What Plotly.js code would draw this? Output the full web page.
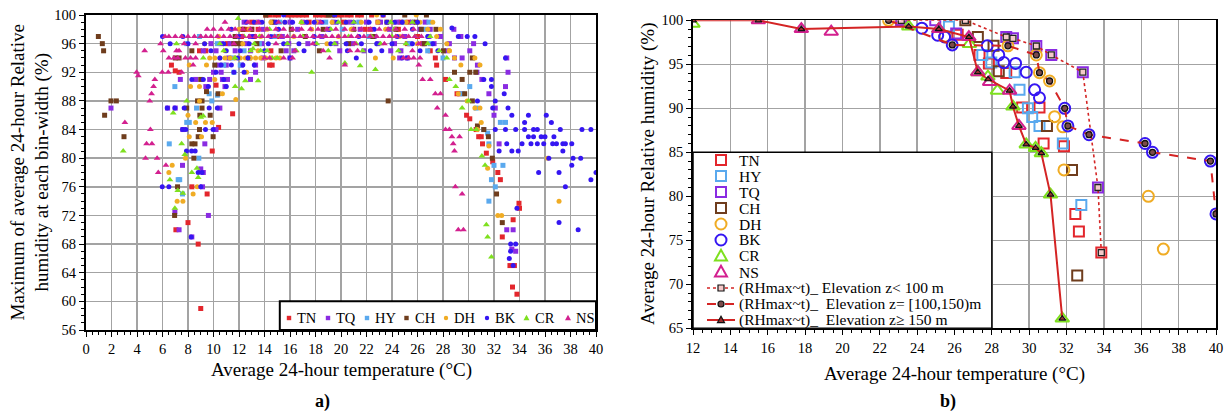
<!DOCTYPE html>
<html><head><meta charset="utf-8">
<script src="https://cdn.plot.ly/plotly-3.0.1.min.js"></script>
<style>html,body{margin:0;padding:0;background:#fff}#chart{width:1226px;height:412px}</style>
</head><body><div id="chart"></div>
<script>
// ================= Panel a) : rows [RH, [temperatures]] and loose points [t, RH] =================
const TN_rows = [[100,[14.1,14.4,14.8,15.1,15.8,16.1,16.4,16.7,17.0,17.3,18.0,18.3,18.6,18.9,19.5,19.8,20.1,20.5,20.8,21.3,21.6,22.4,23.3]],
  [99,[13.0,17.5,20.2,22.9,24.7,25.3]],[98,[12.3,12.6,13.0,13.5,21.9,22.3,24.5]],[97,[12.2,13.2,15.0,26.0]],
  [96,[11.1,25.2,26.4]],[95,[8.9,9.4,14.5,27.0]],[94,[27.4]],[93,[6.7,14.4,14.6,27.5]]];
const TN_pts = [[7.0,92.2],[7.3,92],[10.2,90.2],[11.5,86.2],[10.4,84.3],[9.9,81],[9.5,75],[8.3,76],[8.0,71],[7.05,70],[8.8,68],[9.0,59],
  [28.2,91],[29.1,89],[29.3,89],[29.85,86],[30.1,85.5],[30.6,84],[30.8,83],[31.0,83],[31.1,82],[31.4,80.7],[31.9,79.5],[32.3,78],[32.5,77],
  [33.96,73.7],[34.0,73],[33.5,71.4],[32.65,69],[33.25,65],[33.6,65],[33.45,62],[33.8,61]];

const TQ_rows = [[99,[12.4,13.5,14.8,16.0,17.0,18.2,19.4,20.7,22.0,23.1,24.4,25.6,26.6]],[98,[13.9,16.6,19.0,21.5,23.8,26.2,27.0]],
  [97,[12.9,15.4,18.5,22.6,25.0,26.9]],[96,[9.8,10.6,11.3,12.6,13.8,15.9,17.4,19.6,20.9,22.9,24.2,25.4,26.5,27.3]],
  [95,[9.2,10.2,11.7,12.9,15.7,16.3,19.9,21.8,23.9,24.7,28.3]],[94,[11.2,13.9,16.0,24.6,25.2,28.9]],[93,[10.4,11.0,12.2,13.3]],
  [92,[10.0,10.6,13.3]],[91,[7.4,8.6,9.7,10.7,11.1,12.9]],[90,[9.4,10.9]]];
const TQ_pts = [[1.96,87],[6.4,87],[7.0,87],[7.6,84],[7.57,79],[6.97,72.5],[7.3,70],[8.3,69],[9.32,82],[9.2,78],[9.14,76],[9.6,72],[10.2,84],[10.5,87],[9.0,78.5],
  [27.8,97],[28.5,96],[28.85,98],[29.4,97],[30.4,96],[30.1,95],[29.5,94],[30.66,92],[31.05,91],[30.7,93],[32.1,87],[32.4,82],[33.0,70],[33.5,70],
  [33.0,94],[33.1,92],[32.9,90],[32.0,86],[31.6,89],[33.7,67],[33.4,67.3]];

const HY_rows = [[99,[15.2,18.8,21.4,24.9,26.9]],[98,[20.1,26.6]],[97,[8.9,14.8,22.2]],[96,[7.9,10.3,13.6,25.4,27.0]],[95,[12.4,26.8]],
  [94,[11.5,28.0]],[93,[10.8,12.1]],[92,[11.6]]];
const HY_pts = [[6.97,90],[6.53,82],[7.23,77],[7.57,75],[7.35,77],[8.1,85],[7.9,85],[8.67,87],[8.85,80],[9.66,89],[9.87,88],[10.3,88.8],
  [29.5,89],[30.1,90],[30.6,87],[31.2,84],[31.5,83.5],[31.6,82],[32.0,79],[32.7,79],[31.8,77],[32.1,76],[31.6,74],[32.5,85],[32.9,85]];

const CH_rows = [[100,[14.1,19.0,19.3,25.0,26.7]],[99,[14.6,23.6,25.9]],[98,[12.3,13.0,16.1,18.6,21.0,24.3,26.3,27.45]],[97,[11.7,17.2,22.5]],
  [96,[11.6,11.9,12.1,13.4,20.6,26.54]],[95,[8.3,15.3,18.3,28.03]],[94,[7.0,7.3,12.8,30.3]],[93,[10.1]],[92,[30.1,30.57]]];
const CH_pts = [[0.97,97],[1.28,96],[1.38,95],[1.96,88],[2.38,88],[1.46,86],[2.98,83],[6.95,72],[7.18,76],[7.9,87],[8.46,80],[8.3,82],[8.55,82],
  [8.8,83],[8.9,84],[8.93,86],[9.1,87],[8.75,88],[9.1,88],[9.45,89.3],[9.74,86],[9.97,83],[10.36,89],[9.0,91],[23.7,88],
  [31.56,83],[31.87,80],[32.2,75],[32.65,71],[29.7,89],[30.3,88],[28.9,92],[29.5,91],[31.2,84],[30.7,84.5]];

const DH_rows = [[100,[22.8,25.9]],[99,[13.3,14.5,15.6,16.9,18.1,19.3,20.4,21.6,22.9,24.0,25.1,26.2,27.2]],[98,[12.0,12.8,14.2,17.7,20.8,23.5,26.8,27.8]],
  [97,[10.4,13.7,16.3,19.8,24.6,27.5]],[96,[9.3,12.3,18.9,26.0,28.3]],[95,[10.9,13.5,28.5]],
  [94,[9.7,10.1,10.5,10.9,11.3,11.7,12.1,12.5,12.9,13.3,13.7,14.1,14.5,14.9,15.2,22.7,24.1,28.9]],[93,[8.1,9.45,29.4]],[92,[12.6]],[91,[10.1]],[90,[8.2,8.9]]];
const DH_pts = [[6.76,79],[6.5,78],[7.15,74],[7.6,74],[7.8,80],[8.0,86],[8.1,83],[8.4,75],[8.6,85],[8.72,76],[9.06,83],[9.37,85],[9.9,85],[10.7,89],[11.75,88.2],[8.9,88],
  [28.5,95],[30.5,94],[30.9,93],[29.2,89],[29.9,88],[30.5,87],[30.9,87],[31.0,85],[30.7,84],[31.6,81.7],[31.5,78.6],[32.3,72],[32.6,72],[36.2,80],[37.1,74]];

const BK_rows = [[100,[15.5,19.5,23.3]],[99,[12.6,13.2,13.8,14.9,15.6,16.2,17.3,17.9,18.5,19.7,20.4,21.0,22.2,23.6,24.2,24.8,26.0]],[98,[11.4,15.1,19.1,22.6,25.6]],
  [97,[6.0,7.6,12.0,13.1,14.5,17.9,21.4,24.4,26.8]],[96,[6.6,8.0,9.3,10.8,12.8,14.3,15.5,16.7,18.0,19.2,20.4,21.6,22.8,24.0,25.6,27.2]],
  [95,[9.8,11.0,12.1,14.0,17.1,20.5,22.3,23.2,26.2,27.6]],[94,[10.5,11.9,12.7,16.0,21.2,24.8,25.2]],[93,[10.6,11.4,12.3,13.2]],
  [92,[10.2,11.6,12.4]],[91,[8.3,9.2,10.8]],[90,[9.6,11.0]]];
const BK_pts = [[5.98,76],[6.5,76],[6.37,87],[6.97,87],[7.7,87],[7.57,84],[7.83,84],[7.88,81],[8.28,81],[8.56,81],[8.25,69],[9.0,76],[9.37,84],[9.97,84],
  [9.66,87],[10.3,87],[8.8,78],[9.1,78],
  [28.7,98.2],[29.2,97],[29.9,97],[30.5,97],[31.3,96],[32.9,94],[31.2,91],[31.8,91],[31.8,90],[32.8,89],[30.7,88],[32.1,88],[31.9,87],[33.1,87],
  [33.4,86],[34.7,86],[36.1,86],[34.4,85],[36.5,85],[32.1,84],[32.9,84],[33.7,84],[34.4,84],[35.1,84],[35.4,84],[37.2,84],[38.9,84],[39.6,84],
  [34.7,83],[35.1,83],[35.7,83],[36.0,83],[36.7,83],[33.0,82],[34.2,82],[34.9,82],[35.4,82],[35.9,82],[36.6,82],[36.9,82],[37.4,82],[37.6,82],[38.1,82],
  [32.4,81],[33.4,81],[33.9,81],[37.4,81],[36.3,80],[38.2,80],[38.8,80],[38.1,79],[35.5,78],[37.1,78],[40.0,78],[39.6,77],[37.6,76],[33.8,73],
  [37.1,71],[38.6,70],[33.3,68],[33.7,68],[33.3,67],[33.2,66],[33.5,65]];

const CR_rows = [[99,[16.9,19.8,21.0,23.9,25.6]],[98,[14.4,19.2,24.2]],[97,[12.4,13.6,15.2,17.0,18.8,20.6,22.4,24.0,25.8,27.0]],
  [96,[7.1,10.5,13.2,15.8,18.1,19.5,21.2,23.1,25.1,26.8]],[95,[10.8,12.9,13.7,14.2,16.5,19.0,21.7,24.5,27.7]],[94,[9.2,11.7,14.6,15.0,28.3]]];
const CR_pts = [[11.93,99.5],[20.3,93.3],[21.5,92.9],[22.7,92.4],[17.7,92],[2.92,81],[6.84,86.3],[6.58,77],[6.97,73],[7.5,82],[7.6,75.1],[7.2,75.5],
  [7.75,80.5],[8.3,78],[8.7,78.6],[8.8,77.3],[9.2,85.9],[9.0,85.7],[7.9,88],[11.7,90],[12.2,89.7],[12.5,90.8],[13.5,90.8],[13.1,95.3],
  [28.5,91],[29.0,90],[30.0,88],[29.5,87],[30.2,84],[30.6,84],[31.05,80.3],[31.3,79],[31.4,70.7],[31.5,69],[31.8,66.2]];

const NS_rows = [[99,[10.9,12.7,13.5,15.1,18.4]],
  [98,[9.5,10.0,10.6,11.2,11.7,12.3,12.9,13.6,14.2,14.9,15.5,16.2,16.9,17.6,18.2,18.9,19.6,20.3,21.0,21.6,22.3,23.0,23.7,24.3,25.0,25.7]],
  [97,[6.2,6.5,7.0,7.5,8.0,8.5,9.0,9.4,9.8,10.3,10.8,11.3,11.8,12.3,12.8,13.3,13.8,14.3,14.8,15.3,15.8,16.3,16.8,17.3,17.8,18.3,18.8,19.3,19.8,20.3,20.8,21.3,21.8,22.3,22.8,23.3,23.8,24.3,24.8,25.3,25.8,26.3]],
  [96,[5.85,7.7,8.6,11.6,14.9,17.8,21.1,23.4,26.1]],[95,[4.6,6.06,7.1,7.3,16.4,18.6,20.7,21.3,25.6]],
  [94,[6.5,6.9,7.2,7.8,8.2,8.6,14.0,14.4,15.5,16.2,19.1,24.9,25.3,25.7,26.2]],[93,[8.4,20.3,26.1]],[92,[3.97,5.98,6.45,7.5]]];
const NS_pts = [[4.1,91.5],[5.4,91],[26.4,91],[27.0,91],[5.3,90],[5.14,89],[5.0,88],[3.05,85],[5.05,84],[4.75,82],[5.17,82],[4.67,80],[5.58,80],[5.67,78],[6.27,79],
  [27.4,89],[27.8,89],[27.55,87],[28.2,86],[28.2,84],[28.5,84],[28.7,83],[29.3,83],[28.8,82],[28.9,81],[28.97,76],[29.5,75],[29.2,70],[29.6,70]];

// ================= Panel b) : [t, RH] =================
const B_TN = [[23.15,100],[26.17,98.35],[27.34,96.06],[27.84,95.1],[28.77,94.0],[29.62,90.1],[30.55,90.1],[30.77,86],[31.86,85.7],[32.47,78],[32.66,76],[33.86,73.6]];
const B_HY = [[25.7,99.3],[27.49,96.06],[27.97,95.2],[29.22,94.1],[29.48,92.1],[29.93,90],[30.16,89],[30.55,88],[31.8,86],[32.79,79]];
const B_TQ = [[23.15,100],[24.97,100],[26.09,98.5],[28.77,98.1],[29.13,97.95],[30.38,97.08],[31.18,96.06],[32.87,94.1],[33.68,81]];
const B_CH = [[26.58,100],[27.25,98.1],[28.09,97.1],[28.37,94.2],[30.95,88],[32.29,83],[32.57,71]];
const B_DH = [[22.47,100],[25.5,98.2],[28.86,97.1],[30.38,96.06],[30.55,94.05],[31.09,93.1],[31.36,89.05],[31.8,87.9],[31.86,83],[36.38,80],[37.18,74]];
const B_BK = [[24.25,99.1],[25.1,98.3],[25.47,98.1],[25.88,97.2],[27.75,97.1],[28.37,96.06],[28.64,95.2],[29.27,95.1],[29.84,94.1],[30.29,92.1],[30.55,91.2],[31.9,90],[32.07,88],[33.2,87],[36.2,86],[36.6,85],[39.7,84],[40,78]];
const B_CR = [[12,99.6],[23.55,99.3],[25.16,99],[26.8,97.3],[27.25,94.1],[27.79,93.6],[28.3,92],[29.13,90.2],[29.84,85.9],[30.34,85.5],[30.65,84.9],[31.14,80.2],[31.77,66.1]];
const B_NS = [[15.5,100],[17.8,99],[19.4,98.7],[25.16,99],[26.77,98.1],[27.25,94.1],[27.88,93],[28.95,92],[29.45,88]];
const FIT_LOW  = [[23.15,100],[26.58,100],[28.77,98.1],[29.13,97.95],[30.38,97.08],[31.18,96.06],[32.87,94.1],[33.68,81],[33.86,73.6]];
const FIT_MID  = [[22.47,100],[25.88,97.2],[28.86,97.1],[30.38,96.06],[30.55,94.05],[31.09,93.1],[31.9,90],[32.07,88],[33.2,87],[36.2,86],[36.6,85],[39.7,84],[40,78]];
const FIT_HIGH = [[12,100],[15.5,100],[17.8,99],[23.55,99.3],[25.16,99],[26.77,98.1],[27.25,94.1],[27.8,93.3],[28.95,92],[29.13,90.2],[29.45,88],[29.84,85.9],[30.34,85.5],[30.65,84.9],[31.14,80.2],[31.77,66.1]];

const LEGEND_A = ['TN','TQ','HY','CH','DH','BK','CR','NS'];
const LEGEND_B = ['TN','HY','TQ','CH','DH','BK','CR','NS',
  '(RHmax~t)_ Elevation z&lt; 100 m','(RHmax~t)_  Elevation z= [100,150)m','(RHmax~t)_  Elevation z≥ 150 m'];

const FONT = 'Liberation Serif, Times New Roman, serif';
const colors = {TN:'#e3262c',TQ:'#8a2be2',HY:'#5aa9ee',CH:'#6f3d1d',DH:'#f0ac24',BK:'#3516f2',CR:'#7ee01e',NS:'#d3208f'};
const FIT_RED = '#d42424';
const W=1226,H=412;
const PX = p=>p/W, PY = p=>1-p/H;

function expand(rows, pts){
  const x=[],y=[];
  rows.forEach(r=>r[1].forEach(t=>{x.push(t);y.push(r[0]);}));
  pts.forEach(p=>{x.push(p[0]);y.push(p[1]);});
  return {x,y};
}
const seriesA = {TN:[TN_rows,TN_pts,'square',5],TQ:[TQ_rows,TQ_pts,'square',5],HY:[HY_rows,HY_pts,'square',5],CH:[CH_rows,CH_pts,'square',5],
  DH:[DH_rows,DH_pts,'circle',5],BK:[BK_rows,BK_pts,'circle',5],CR:[CR_rows,CR_pts,'triangle-up',6],NS:[NS_rows,NS_pts,'triangle-up',6]};
const traces = [];
LEGEND_A.forEach(k=>{
  const s = seriesA[k]; const d = expand(s[0],s[1]);
  traces.push({type:'scatter',mode:'markers',name:k,x:d.x,y:d.y,xaxis:'x',yaxis:'y',showlegend:false,
    marker:{symbol:s[2],size:s[3],color:colors[k],line:{width:0}}});
});
const seriesB = {TN:[B_TN,'square-open',10],HY:[B_HY,'square-open',10],TQ:[B_TQ,'square-open',10],CH:[B_CH,'square-open',10],
  DH:[B_DH,'circle-open',11],BK:[B_BK,'circle-open',11],CR:[B_CR,'triangle-up-open',12],NS:[B_NS,'triangle-up-open',12]};
LEGEND_B.slice(0,8).forEach(k=>{
  const s = seriesB[k];
  traces.push({type:'scatter',mode:'markers',name:k,x:s[0].map(p=>p[0]),y:s[0].map(p=>p[1]),xaxis:'x2',yaxis:'y2',showlegend:false,
    marker:{symbol:s[1],size:s[2],color:colors[k],line:{width:2,color:colors[k]}}});
});
const fitStyles = [
  [FIT_LOW,'dot',1.6,{symbol:'square',size:6,color:'#f4c9c9',line:{color:'#222',width:1.3}}],
  [FIT_MID,'dash',2,{symbol:'circle',size:6,color:'#7a4a4a',line:{color:'#111',width:1.3}}],
  [FIT_HIGH,'solid',2,{symbol:'triangle-up',size:6,color:'#9a3030',line:{color:'#111',width:1.2}}]
];
fitStyles.forEach((f,i)=>{
  traces.push({type:'scatter',mode:'lines+markers',name:LEGEND_B[8+i],x:f[0].map(p=>p[0]),y:f[0].map(p=>p[1]),xaxis:'x2',yaxis:'y2',showlegend:false,
    line:{color:FIT_RED,dash:f[1],width:f[2]},marker:f[3]});
});

// ---------- legend drawing (keys) ----------
const shapes = [
  {type:'rect',xref:'x',yref:'y',x0:15.2,x1:40,y0:56,y1:60,layer:'above',fillcolor:'#fff',line:{color:'#000',width:2}},
  {type:'rect',xref:'x2',yref:'y2',x0:12,x1:28,y0:65,y1:85,layer:'above',fillcolor:'#fff',line:{color:'#000',width:1.5}}
];
const annotations = [];
function symShape(kind, cx, cy, r, color, filled, lw){
  const base = {xref:'paper',yref:'paper',layer:'above'};
  const fill = filled ? color : 'rgba(0,0,0,0)';
  const line = filled ? {width:0} : {color:color,width:lw};
  if(kind==='square') return Object.assign(base,{type:'rect',x0:PX(cx-r),x1:PX(cx+r),y0:PY(cy+r),y1:PY(cy-r),fillcolor:fill,line:line});
  if(kind==='circle') return Object.assign(base,{type:'circle',x0:PX(cx-r),x1:PX(cx+r),y0:PY(cy+r),y1:PY(cy-r),fillcolor:fill,line:line});
  const p = `M${PX(cx)},${PY(cy-r*1.05)} L${PX(cx-r)},${PY(cy+r*0.75)} L${PX(cx+r)},${PY(cy+r*0.75)} Z`;
  return Object.assign(base,{type:'path',path:p,fillcolor:fill,line:line});
}
const kindA = {TN:'square',TQ:'square',HY:'square',CH:'square',DH:'circle',BK:'circle',CR:'tri',NS:'tri'};
const keyAx = [289,328,367,406.5,446,487,526.5,568];
LEGEND_A.forEach((k,i)=>{
  shapes.push(symShape(kindA[k],keyAx[i],318,kindA[k]==='tri'?3:2.2,colors[k],true,0));
  annotations.push({xref:'paper',yref:'paper',x:PX(keyAx[i]+6),y:PY(318),xanchor:'left',yanchor:'middle',text:k,showarrow:false,
    font:{family:FONT,size:14.5,color:'#000'}});
});
const rowB = [160,176,192,208,224,240,256,272,288,304,320];
const kindB = {TN:'square',HY:'square',TQ:'square',CH:'square',DH:'circle',BK:'circle',CR:'tri',NS:'tri'};
LEGEND_B.forEach((k,i)=>{
  const y = rowB[i];
  if(i<8){
    const kd = kindB[k];
    shapes.push(symShape(kd,721,y,kd==='tri'?6:(kd==='circle'?5.5:5),colors[k],false,2));
  } else {
    const f = fitStyles[i-8];
    shapes.push({type:'line',xref:'paper',yref:'paper',x0:PX(707),x1:PX(735),y0:PY(y),y1:PY(y),layer:'above',line:{color:FIT_RED,width:f[2],dash:f[1]}});
    const kd = ['square','circle','tri'][i-8];
    const s = symShape(kd,721,y,kd==='tri'?3.5:3,f[3].color,true,0);
    s.line = {color:'#111',width:1.2};
    shapes.push(s);
  }
  annotations.push({xref:'paper',yref:'paper',x:PX(737),y:PY(y),xanchor:'left',yanchor:'middle',text:k,showarrow:false,
    font:{family:FONT,size:15.5,color:'#000'}});
});

annotations.push(
  {xref:'paper',yref:'paper',x:PX(30),y:PY(172.5),xanchor:'center',yanchor:'middle',text:'Maximum of average 24-hour Relative<br>humidity at each bin-width (%)',textangle:-90,
    showarrow:false,font:{family:FONT,size:19,color:'#000'}},
  {xref:'paper',yref:'paper',x:PX(341),y:PY(370),xanchor:'center',yanchor:'middle',text:'Average 24-hour temperature (°C)',showarrow:false,font:{family:FONT,size:19,color:'#000'}},
  {xref:'paper',yref:'paper',x:PX(322),y:PY(401),xanchor:'center',yanchor:'middle',text:'<b>a)</b>',showarrow:false,font:{family:FONT,size:18,color:'#000'}},
  {xref:'paper',yref:'paper',x:PX(648),y:PY(174),xanchor:'center',yanchor:'middle',text:'Average 24-hour Relative humidity (%)',textangle:-90,showarrow:false,font:{family:FONT,size:19,color:'#000'}},
  {xref:'paper',yref:'paper',x:PX(954),y:PY(374),xanchor:'center',yanchor:'middle',text:'Average 24-hour temperature (°C)',showarrow:false,font:{family:FONT,size:19,color:'#000'}},
  {xref:'paper',yref:'paper',x:PX(948),y:PY(401),xanchor:'center',yanchor:'middle',text:'<b>b)</b>',showarrow:false,font:{family:FONT,size:18,color:'#000'}}
);

const axBase = {showgrid:true,gridcolor:'#a3a3a3',gridwidth:1.5,zeroline:false,showline:true,linecolor:'#000',linewidth:2,mirror:true,
  ticks:'outside',ticklen:5,tickwidth:1,tickcolor:'#000',tickfont:{family:FONT,size:14.5,color:'#000'},fixedrange:true};
const layout = {
  width:W,height:H,margin:{l:0,r:0,t:0,b:0},paper_bgcolor:'#fff',plot_bgcolor:'#fff',font:{family:FONT,color:'#000'},showlegend:false,
  xaxis:Object.assign({},axBase,{domain:[PX(86),PX(596)],range:[0,40],dtick:2,tick0:0,anchor:'y',
    minor:{dtick:0.5,ticks:'outside',ticklen:3,tickcolor:'#000',showgrid:false}}),
  yaxis:Object.assign({},axBase,{domain:[PY(330),PY(15)],range:[56,100],dtick:4,tick0:0,anchor:'x',
    minor:{dtick:1,ticks:'outside',ticklen:3,tickcolor:'#000',showgrid:false}}),
  xaxis2:Object.assign({},axBase,{domain:[PX(693),PX(1216)],range:[12,40],dtick:2,tick0:0,anchor:'y2',linewidth:1.8,
    minor:{dtick:0.5,ticks:'outside',ticklen:3,tickcolor:'#000',showgrid:false}}),
  yaxis2:Object.assign({},axBase,{domain:[PY(328.3),PY(20.3)],range:[65,100],dtick:5,tick0:0,anchor:'x2',linewidth:1.8,
    minor:{dtick:1,ticks:'outside',ticklen:3,tickcolor:'#000',showgrid:false}}),
  shapes:shapes,
  annotations:annotations
};
Plotly.newPlot('chart',traces,layout,{staticPlot:true,displayModeBar:false});
</script>
</body></html>
